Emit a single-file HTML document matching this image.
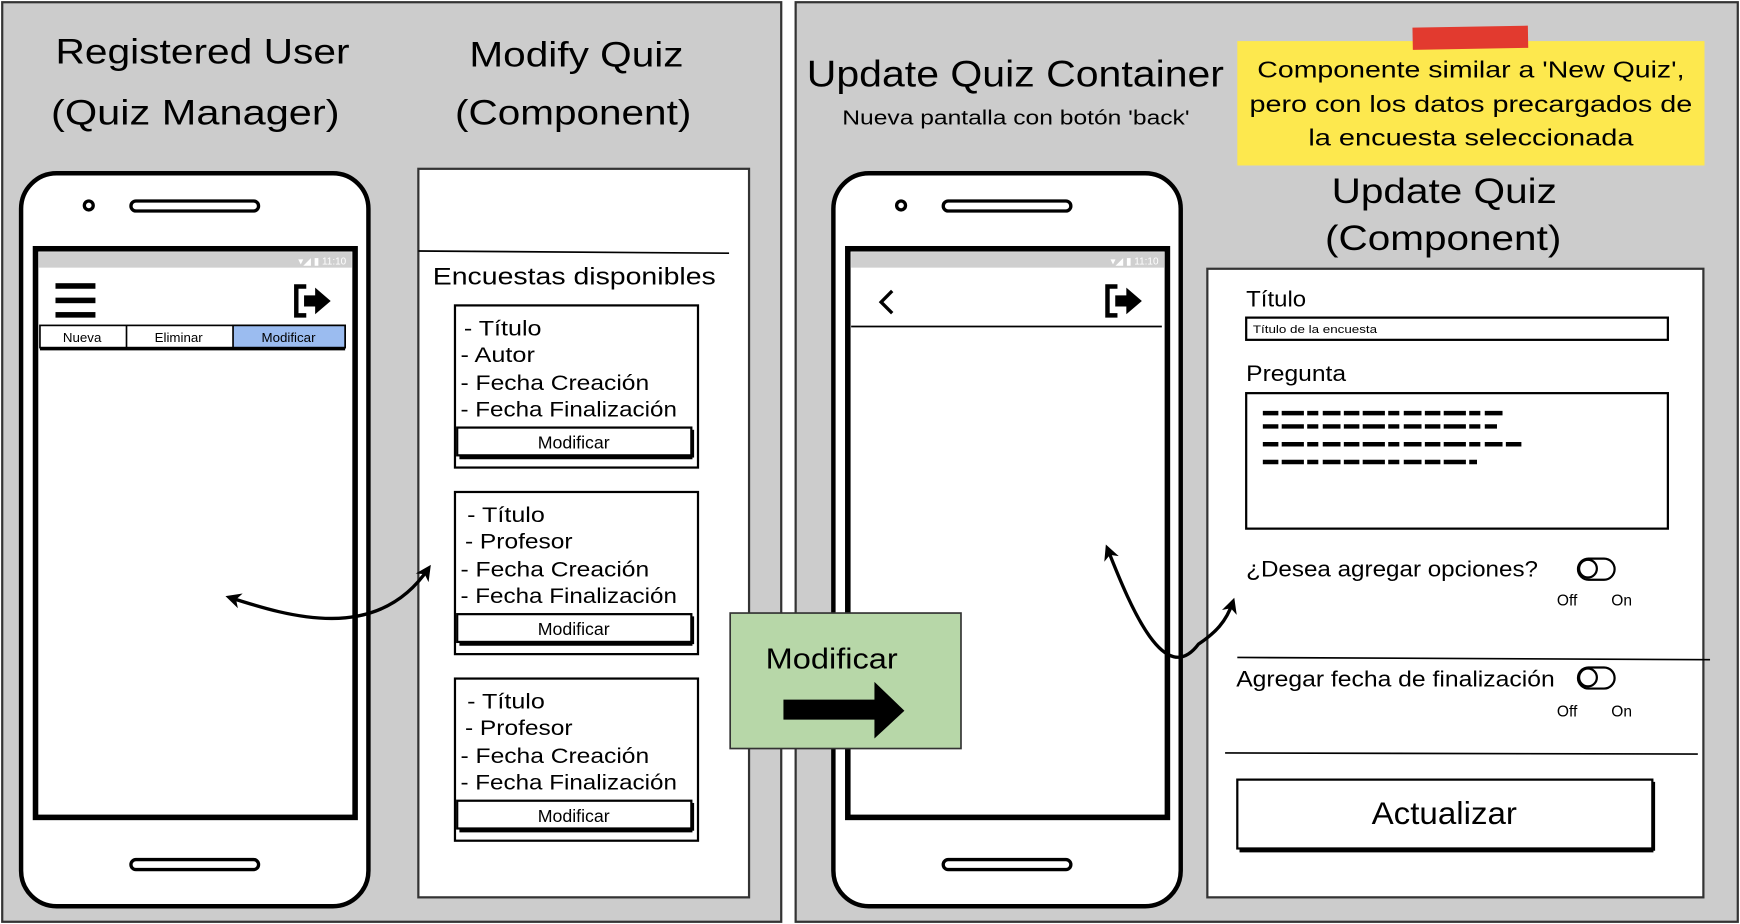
<!DOCTYPE html>
<html><head><meta charset="utf-8"><style>
html,body{margin:0;padding:0;background:#fff;}
svg{display:block}
text{font-family:"Liberation Sans",sans-serif;fill:#000}
</style></head><body>
<svg width="1740" height="924" viewBox="0 0 1568 832" preserveAspectRatio="none" xmlns="http://www.w3.org/2000/svg">
<defs><marker id="ah" markerWidth="16" markerHeight="16" refX="10" refY="8" orient="auto-start-reverse" markerUnits="userSpaceOnUse"><path d="M0,1 L14,8 L0,15 L4,8 Z" fill="#000"/></marker></defs>
<rect x="0" y="0" width="1568" height="832" fill="#fff"/>
<rect x="2" y="2" width="702" height="828" fill="#cccccc" stroke="#333" stroke-width="2"/>
<rect x="717" y="2" width="849" height="828" fill="#cccccc" stroke="#333" stroke-width="2"/>
<g font-size="32" lengthAdjust="spacingAndGlyphs">
<text x="50" y="57" textLength="265" lengthAdjust="spacingAndGlyphs">Registered User</text>
<text x="46" y="112" textLength="260" lengthAdjust="spacingAndGlyphs">(Quiz Manager)</text>
<text x="423" y="60" textLength="193" lengthAdjust="spacingAndGlyphs">Modify Quiz</text>
<text x="410" y="112" textLength="213" lengthAdjust="spacingAndGlyphs">(Component)</text>
</g>
<!-- left phone -->
<rect x="19" y="156" width="313" height="660" rx="32" fill="#fff" stroke="#000" stroke-width="4"/>
<circle cx="80" cy="185" r="4" fill="none" stroke="#000" stroke-width="3"/>
<rect x="118" y="181" width="115" height="9" rx="4.5" fill="none" stroke="#000" stroke-width="3"/>
<rect x="118" y="774" width="115" height="9" rx="4.5" fill="none" stroke="#000" stroke-width="3"/>
<rect x="32" y="224" width="288" height="512" fill="#fff" stroke="#000" stroke-width="5"/>
<rect x="35" y="227" width="282" height="14" fill="#cfcfcf"/>
<text x="312" y="238" font-size="9" text-anchor="end" style="fill:#fff">▾◢ ▮ 11:10</text>
<rect x="50" y="255" width="36" height="5" fill="#000"/><rect x="50" y="268" width="36" height="5" fill="#000"/><rect x="50" y="281" width="36" height="5" fill="#000"/>
<g transform="translate(264,256)"><path d="M12,2 H3 V28 H12" fill="none" stroke="#000" stroke-width="4"/><path d="M10,10 H20 V3 L34,15 L20,27 V20 H10 Z" fill="#000"/></g>
<rect x="36" y="293" width="275" height="20" fill="#fff" stroke="#000" stroke-width="1.5"/>
<rect x="210" y="293" width="101" height="20" fill="#9bbcf0" stroke="#000" stroke-width="1.5"/>
<line x1="114" y1="293" x2="114" y2="313" stroke="#000" stroke-width="1.5"/>
<line x1="36" y1="314" x2="311" y2="314" stroke="#000" stroke-width="3"/>
<text x="74" y="308" font-size="12" text-anchor="middle">Nueva</text>
<text x="161" y="308" font-size="12" text-anchor="middle">Eliminar</text>
<text x="260" y="308" font-size="12" text-anchor="middle">Modificar</text>
<!-- modify component -->
<rect x="377" y="152" width="298" height="656" fill="#fff" stroke="#333" stroke-width="2"/>
<line x1="377" y1="226" x2="657" y2="228" stroke="#000" stroke-width="1.5"/>
<text x="390" y="256" font-size="22" textLength="255" lengthAdjust="spacingAndGlyphs">Encuestas disponibles</text>
<g id="c1">
<rect x="410" y="275" width="219" height="146" fill="#fff" stroke="#000" stroke-width="2"/>
<rect x="412" y="385" width="211" height="25" fill="#fff" stroke="#000" stroke-width="2"/>
<line x1="414" y1="412" x2="624" y2="412" stroke="#000" stroke-width="3"/><line x1="624" y1="387" x2="624" y2="412" stroke="#000" stroke-width="3"/>
<text x="517" y="404" font-size="16" text-anchor="middle">Modificar</text>
</g>
<use href="#c1" transform="translate(0,168)"/>
<use href="#c1" transform="translate(0,336)"/>
<g font-size="19">
<text x="418" y="302" textLength="70" lengthAdjust="spacingAndGlyphs">- Título</text><text x="415" y="326" textLength="67" lengthAdjust="spacingAndGlyphs">- Autor</text><text x="415" y="351" textLength="170" lengthAdjust="spacingAndGlyphs">- Fecha Creación</text><text x="415" y="375" textLength="195" lengthAdjust="spacingAndGlyphs">- Fecha Finalización</text>
<text x="421" y="470" textLength="70" lengthAdjust="spacingAndGlyphs">- Título</text><text x="419" y="494" textLength="97" lengthAdjust="spacingAndGlyphs">- Profesor</text><text x="415" y="519" textLength="170" lengthAdjust="spacingAndGlyphs">- Fecha Creación</text><text x="415" y="543" textLength="195" lengthAdjust="spacingAndGlyphs">- Fecha Finalización</text>
<text x="421" y="638" textLength="70" lengthAdjust="spacingAndGlyphs">- Título</text><text x="419" y="662" textLength="97" lengthAdjust="spacingAndGlyphs">- Profesor</text><text x="415" y="687" textLength="170" lengthAdjust="spacingAndGlyphs">- Fecha Creación</text><text x="415" y="711" textLength="195" lengthAdjust="spacingAndGlyphs">- Fecha Finalización</text>
</g>
<path d="M207,538 C260,555 340,580 386,512" fill="none" stroke="#000" stroke-width="3" marker-start="url(#ah)" marker-end="url(#ah)"/>
<!-- right panel titles -->
<text x="727" y="78" font-size="33" textLength="376" lengthAdjust="spacingAndGlyphs">Update Quiz Container</text>
<text x="759" y="112" font-size="18" textLength="313" lengthAdjust="spacingAndGlyphs">Nueva pantalla con botón 'back'</text>
<rect x="1115" y="37" width="421" height="112" fill="#fde84e"/>
<rect x="1273" y="24" width="104" height="20" fill="#e23a2f" transform="rotate(-1 1325 34)"/>
<g font-size="21"><text x="1133" y="70" textLength="385" lengthAdjust="spacingAndGlyphs">Componente similar a 'New Quiz',</text><text x="1126" y="101" textLength="399" lengthAdjust="spacingAndGlyphs">pero con los datos precargados de</text><text x="1179" y="131" textLength="293" lengthAdjust="spacingAndGlyphs">la encuesta seleccionada</text></g>
<text x="1200" y="183" font-size="32" textLength="203" lengthAdjust="spacingAndGlyphs">Update Quiz</text>
<text x="1194" y="225" font-size="32" textLength="213" lengthAdjust="spacingAndGlyphs">(Component)</text>
<!-- right phone -->
<rect x="751" y="156" width="313" height="660" rx="32" fill="#fff" stroke="#000" stroke-width="4"/>
<circle cx="812" cy="185" r="4" fill="none" stroke="#000" stroke-width="3"/>
<rect x="850" y="181" width="115" height="9" rx="4.5" fill="none" stroke="#000" stroke-width="3"/>
<rect x="850" y="774" width="115" height="9" rx="4.5" fill="none" stroke="#000" stroke-width="3"/>
<rect x="764" y="224" width="288" height="512" fill="#fff" stroke="#000" stroke-width="5"/>
<rect x="767" y="227" width="282" height="14" fill="#cfcfcf"/>
<text x="1044" y="238" font-size="9" text-anchor="end" style="fill:#fff">▾◢ ▮ 11:10</text>
<path d="M804,262 L794,272 L804,282" fill="none" stroke="#000" stroke-width="3"/>
<g transform="translate(995,256)"><path d="M12,2 H3 V28 H12" fill="none" stroke="#000" stroke-width="4"/><path d="M10,10 H20 V3 L34,15 L20,27 V20 H10 Z" fill="#000"/></g>
<line x1="767" y1="294" x2="1047" y2="294" stroke="#000" stroke-width="1.5"/>
<!-- green box -->
<rect x="658" y="552" width="208" height="122" fill="#b7d7a8" stroke="#333" stroke-width="1.5"/>
<text x="690" y="602" font-size="26" textLength="119" lengthAdjust="spacingAndGlyphs">Modificar</text>
<path d="M706,630 H788 V614 L815,640 L788,665 V648 H706 Z" fill="#000"/>
<!-- update component -->
<rect x="1088" y="242" width="447" height="566" fill="#fff" stroke="#333" stroke-width="2"/>
<text x="1123" y="276" font-size="20" textLength="54" lengthAdjust="spacingAndGlyphs">Título</text>
<rect x="1123" y="286" width="380" height="20" fill="#fff" stroke="#000" stroke-width="2"/>
<text x="1129" y="300" font-size="10" textLength="112" lengthAdjust="spacingAndGlyphs">Título de la encuesta</text>
<text x="1123" y="343" font-size="20" textLength="90" lengthAdjust="spacingAndGlyphs">Pregunta</text>
<rect x="1123" y="354" width="380" height="122" fill="#fff" stroke="#000" stroke-width="2"/>
<g stroke="#000" stroke-width="4" stroke-dasharray="14 3 20 3 10 4 16 3">
<line x1="1138" y1="372" x2="1357" y2="372"/><line x1="1138" y1="384" x2="1349" y2="384"/><line x1="1138" y1="400" x2="1373" y2="400"/><line x1="1138" y1="416" x2="1331" y2="416"/>
</g>
<text x="1123" y="519" font-size="20" textLength="263" lengthAdjust="spacingAndGlyphs">¿Desea agregar opciones?</text>
<rect x="1422" y="503" width="33" height="19" rx="9.5" fill="#fff" stroke="#000" stroke-width="2"/><circle cx="1431" cy="512" r="8" fill="#fff" stroke="#000" stroke-width="2"/>
<text x="1403" y="545" font-size="14">Off</text><text x="1452" y="545" font-size="14">On</text>
<line x1="1115" y1="592" x2="1541" y2="594" stroke="#000" stroke-width="1.5"/>
<text x="1114" y="618" font-size="20" textLength="287" lengthAdjust="spacingAndGlyphs">Agregar fecha de finalización</text>
<rect x="1422" y="601" width="33" height="19" rx="9.5" fill="#fff" stroke="#000" stroke-width="2"/><circle cx="1431" cy="610" r="8" fill="#fff" stroke="#000" stroke-width="2"/>
<text x="1403" y="645" font-size="14">Off</text><text x="1452" y="645" font-size="14">On</text>
<line x1="1104" y1="678" x2="1530" y2="679" stroke="#000" stroke-width="1.5"/>
<rect x="1115" y="702" width="374" height="62" fill="#fff" stroke="#000" stroke-width="2"/>
<line x1="1117" y1="766" x2="1490" y2="766" stroke="#000" stroke-width="3"/><line x1="1490" y1="704" x2="1490" y2="766" stroke="#000" stroke-width="3"/>
<text x="1236" y="742" font-size="28" textLength="131" lengthAdjust="spacingAndGlyphs">Actualizar</text>
<path d="M998,494 C1020,550 1050,620 1080,580 C1095,570 1105,560 1111,542" fill="none" stroke="#000" stroke-width="3" marker-start="url(#ah)" marker-end="url(#ah)"/>
</svg>
</body></html>
